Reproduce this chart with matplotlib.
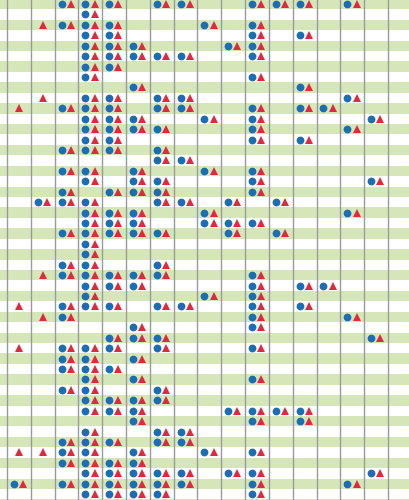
import matplotlib
matplotlib.use("Agg")
from matplotlib import pyplot as plt

# cells holding a blue circle + red triangle pair, per row (column indices)
pairs = [
    [3, 4, 5, 7, 8, 11, 12, 13, 15],
    [4],
    [3, 4, 5, 9, 11],
    [4, 5, 11, 13],
    [4, 5, 6, 10, 11],
    [4, 5, 6, 7, 8, 11],
    [4, 5],
    [4, 11],
    [6, 13],
    [4, 5, 7, 8, 15],
    [3, 4, 5, 7, 8, 11, 13, 14],
    [4, 5, 6, 9, 11, 16],
    [4, 5, 6, 7, 11, 15],
    [4, 5, 11, 13],
    [3, 4, 5, 7],
    [7, 8],
    [3, 4, 6, 9, 11],
    [4, 6, 7, 11, 16],
    [3, 5, 6, 7, 11],
    [2, 3, 4, 7, 8, 10, 12],
    [4, 5, 6, 9, 15],
    [4, 5, 6, 9, 10, 11],
    [3, 4, 5, 6, 7, 10, 12],
    [4],
    [4],
    [3, 4, 7],
    [3, 4, 5, 6, 7, 11],
    [4, 5, 6, 11, 13, 14],
    [4, 9, 11],
    [3, 4, 5, 7, 8, 11, 13],
    [3, 11, 15],
    [6, 11],
    [5, 6, 7, 16],
    [3, 4, 5, 7, 11],
    [3, 4, 6],
    [3, 4, 5],
    [4, 6, 11],
    [3, 4, 7],
    [4, 5, 6, 7],
    [4, 5, 6, 10, 11, 12, 13],
    [6, 11, 13],
    [4, 7, 8],
    [3, 4, 5, 7, 8],
    [3, 4, 6, 9, 11],
    [3, 4, 5, 6],
    [4, 5, 6, 7, 8, 10, 11, 16],
    [1, 3, 4, 5, 6, 7, 8, 11, 15],
    [4, 5, 6, 7, 11],
]

# cells with a red triangle only: (row, column)
triangles_only = [(2, 2), (9, 2), (10, 1), (26, 2), (29, 1), (30, 2),
                  (33, 1), (38, 0), (43, 1), (43, 2)]

n_rows = len(pairs)
n_cols = 18

BLUE = "#1b6db4"
RED = "#e2283f"
GREEN = "#d5e7b8"

fig = plt.figure(figsize=(4.1, 5.0), dpi=100)
ax = fig.add_axes([0, 0, 1, 1])

for r in range(0, n_rows + 1, 2):
    ax.axhspan(r - 0.5, r + 0.5, color=GREEN, lw=0, zorder=0)

for c in range(n_cols - 1):
    ax.axvline(c + 0.5, color="#9a9a9a", lw=1.0, zorder=1)

cx, cy, tx, ty = [], [], [], []
for r, cols in enumerate(pairs):
    for c in cols:
        cx.append(c - 0.21)
        cy.append(r)
        tx.append(c + 0.18)
        ty.append(r)
for r, c in triangles_only:
    tx.append(c)
    ty.append(r)

ax.plot(cx, cy, "o", color=BLUE, ms=5.6, mew=0, zorder=3)
ax.plot(tx, ty, "^", color=RED, ms=6.4, mew=0, zorder=3)

ax.set_xlim(0.5 - 7 / 23.81, 0.5 + 403 / 23.81)
ax.set_ylim((500 - 4) / 10.43, -4 / 10.43)
ax.axis("off")

plt.savefig("out.png", dpi=100)
